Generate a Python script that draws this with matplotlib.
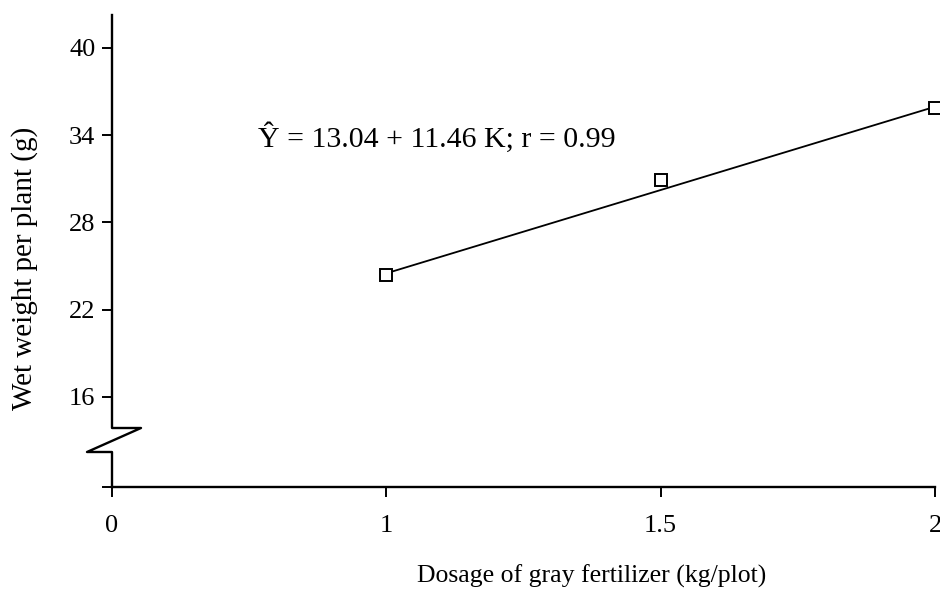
import matplotlib
matplotlib.use("Agg")
import matplotlib.pyplot as plt
from matplotlib.lines import Line2D

plt.rcParams['font.family'] = ['Liberation Serif', 'DejaVu Serif']

x_labels = ['0', '1', '1.5', '2']
dose = [1.0, 1.5, 2.0]
weight = [24.4, 30.9, 35.9]
intercept, slope = 13.04, 11.46
y_ticks = [16, 22, 28, 34, 40]
equation = "Ŷ = 13.04 + 11.46 K; r = 0.99"
xlabel = "Dosage of gray fertilizer (kg/plot)"
ylabel = "Wet weight per plant (g)"

W, H = 940, 590
fig = plt.figure(figsize=(W/100, H/100), dpi=100)
L, R, T, B = 112, 935, 15, 487
ax = fig.add_axes([L/W, 1-B/H, (R-L)/W, (B-T)/H])

label_of = {1.0: '1', 1.5: '1.5', 2.0: '2'}
xp = [x_labels.index(label_of[d]) for d in dose]

ymin, ymax = 9.8, 42.27
ax.set_xlim(0, 3)
ax.set_ylim(ymin, ymax)

# regression line
ks = [dose[0], dose[-1]]
ax.plot([xp[0], xp[-1]], [intercept + slope*k for k in ks], color='black', lw=1.3, clip_on=False, zorder=3)
ax.plot(xp, weight, linestyle='none', marker='s', markersize=8, markerfacecolor='white',
        markeredgecolor='black', markeredgewidth=1.4, clip_on=False, zorder=4)

ax.set_xticks(range(len(x_labels)))
ax.set_xticklabels(x_labels)
ax.set_yticks([ymin] + y_ticks)
ax.set_yticklabels([''] + [str(v) for v in y_ticks])
ax.tick_params(axis='both', direction='out', length=7, width=1.4, labelsize=19, colors='black')
ax.tick_params(axis='x', pad=13)
ax.tick_params(axis='y', pad=5)

for s in ['top', 'right', 'left']:
    ax.spines[s].set_visible(False)
ax.spines['bottom'].set_linewidth(1.7)

# left spine with break, drawn in figure pixel coords
def fp(x, y):
    return (x/W, 1-y/H)
pts = [fp(112, T), fp(112, 428), fp(141, 428), fp(87, 452), fp(112, 452), fp(112, B)]
xs, ys = zip(*pts)
fig.add_artist(Line2D(xs, ys, color='black', lw=1.7, transform=fig.transFigure))

fig.text(258/W, 1-138/H, equation, fontsize=21.5, va='center', ha='left')
fig.text(592/W, 1-576/H, xlabel, fontsize=18.5, va='center', ha='center')
fig.text(25/W, 1-268/H, ylabel, fontsize=21, va='center', ha='center', rotation=90)

fig.savefig('out.png', dpi=100)
